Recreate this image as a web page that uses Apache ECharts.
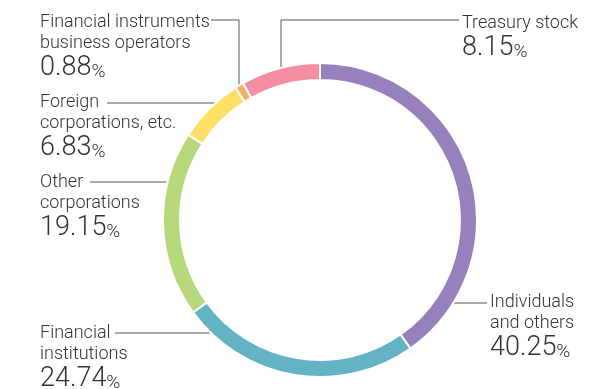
<!DOCTYPE html>
<html>
<head>
<meta charset="utf-8">
<script src="https://cdn.jsdelivr.net/npm/echarts@6/dist/echarts.min.js"></script>
<style>
  html, body { margin: 0; padding: 0; background: #fff; }
  #chart { width: 615px; height: 389px; }
</style>
</head>
<body>
<div id="chart"></div>
<script>
// Shareholder composition, clockwise from the top of the ring
const categories = [
  'Individuals\nand others',
  'Financial\ninstitutions',
  'Other\ncorporations',
  'Foreign\ncorporations, etc.',
  'Financial instruments\nbusiness operators',
  'Treasury stock'
];
const shares = [40.25, 24.74, 19.15, 6.83, 0.88, 8.15];
const colors = ['#9681BC', '#63B3C5', '#B7D77B', '#FFDF65', '#F6AE6B', '#F48FA3'];

// Where each callout block sits and how its leader line runs to the ring
const callouts = [
  { x: 490, y: 291.5, line: [[450, 303], [468, 303], [487, 303]] },
  { x: 40,  y: 323,   line: [[227, 333], [170, 333], [115, 333]] },
  { x: 40,  y: 172,   line: [[172, 182], [130, 182], [90, 182]] },
  { x: 40,  y: 91.5,  line: [[224, 103], [165, 103], [107, 103]] },
  { x: 40,  y: 11.5,  line: [[239, 89], [239, 20], [211, 20]] },
  { x: 462, y: 13,    line: [[281, 73], [281, 20], [459, 20]] }
];

const FONT = 'Roboto, "Liberation Sans", Arial, sans-serif';
const chart = echarts.init(document.getElementById('chart'), null, { renderer: 'canvas' });

chart.setOption({
  animation: false,
  series: [{
    type: 'pie',
    center: [320, 220],
    radius: [140, 157],
    startAngle: 90,
    clockwise: true,
    avoidLabelOverlap: false,
    silent: true,
    itemStyle: { borderColor: '#ffffff', borderWidth: 2 },
    data: categories.map((name, i) => ({
      name: name,
      value: shares[i],
      itemStyle: { color: colors[i] }
    })),
    label: {
      show: true,
      position: 'outside',
      formatter: p => '{name|' + p.name + '}\n{val|' + p.value.toFixed(2) + '}{pct|%}',
      rich: {
        name: { fontFamily: FONT, fontWeight: 300, fontSize: 18, lineHeight: 21, color: '#333333' },
        val:  { fontFamily: FONT, fontWeight: 300, fontSize: 27, lineHeight: 28, color: '#333333', verticalAlign: 'bottom' },
        pct:  { fontFamily: FONT, fontWeight: 300, fontSize: 19, lineHeight: 22.6, color: '#333333', verticalAlign: 'bottom' }
      }
    },
    labelLine: {
      show: true,
      lineStyle: { color: '#555555', width: 1 }
    },
    labelLayout: params => {
      const c = callouts[params.dataIndex];
      return {
        x: c.x,
        y: c.y,
        align: 'left',
        verticalAlign: 'top',
        labelLinePoints: c.line
      };
    }
  }]
});
</script>
</body>
</html>
